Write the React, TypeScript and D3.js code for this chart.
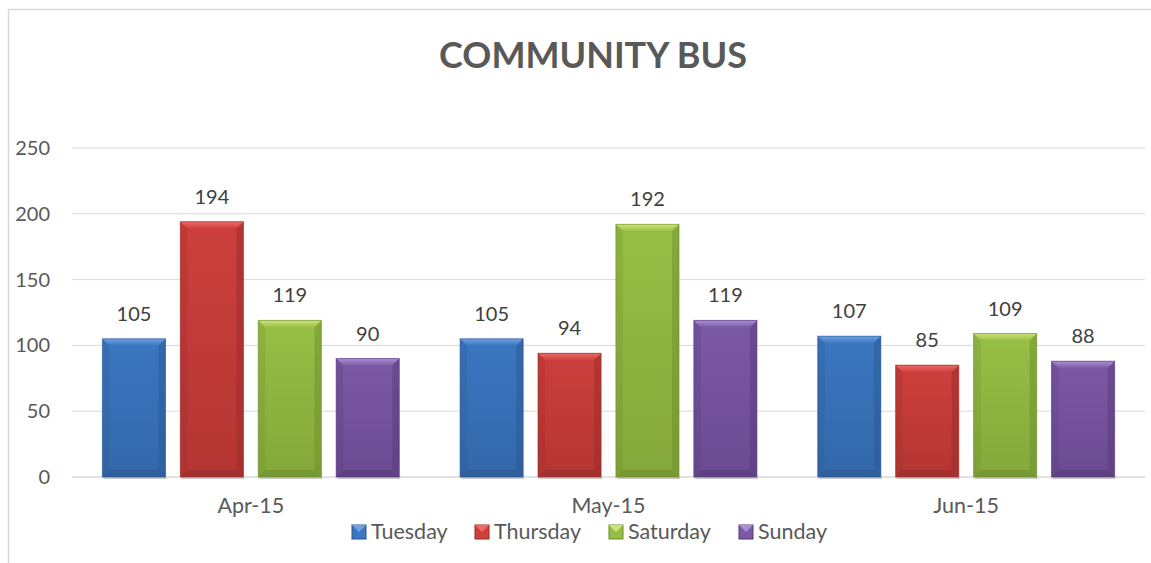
import React from "react";
import * as d3 from "d3";

const months = ["Apr-15", "May-15", "Jun-15"];
const days = ["Tuesday", "Thursday", "Saturday", "Sunday"];
const tuesday = [105, 105, 107];
const thursday = [194, 94, 85];
const saturday = [119, 192, 109];
const sunday = [90, 119, 88];
const yTicks = [0, 50, 100, 150, 200, 250];

const series = [tuesday, thursday, saturday, sunday];

// base / light / dark shade per day
const shades = [
  { base: "#3b76c0", light: "#6ea2e2", dark: "#2a5690" },
  { base: "#cc3f3c", light: "#ee6a66", dark: "#962b29" },
  { base: "#97bf45", light: "#cde377", dark: "#6c8c2c" },
  { base: "#7b59a4", light: "#ab8fd6", dark: "#56397a" },
];

const W = 1151;
const H = 563;
const margin = { top: 148, right: 6, bottom: 86, left: 72 };
const FONT = "Lato, 'Open Sans', sans-serif";

const App = () => {
  const chartW = W - margin.left - margin.right;
  const chartH = H - margin.top - margin.bottom;

  const x0 = d3.scaleBand().domain(months).range([0, chartW]).padding(0);
  const x1 = d3
    .scaleBand()
    .domain(days)
    .range([0, x0.bandwidth()])
    .paddingInner(0.19)
    .paddingOuter(0.39);
  const y = d3.scaleLinear().domain([0, 250]).range([chartH, 0]);

  const bev = 7;

  return (
    <svg
      width={W}
      height={H}
      style={{ position: "absolute", left: 0, top: 0, background: "#fff" }}
      fontFamily={FONT}
    >
      <defs>
        {shades.map((s, i) => (
          <linearGradient key={i} id={`g${i}`} x1="0" y1="0" x2="0" y2="1">
            <stop offset="0" stopColor={s.base} />
            <stop offset="1" stopColor={d3.interpolateRgb(s.base, s.dark)(0.45)} />
          </linearGradient>
        ))}
        {shades.map((s, i) => (
          <linearGradient key={i} id={`t${i}`} x1="0" y1="0" x2="0" y2="1">
            <stop offset="0" stopColor={s.light} />
            <stop offset="1" stopColor={s.base} />
          </linearGradient>
        ))}
      </defs>

      {/* frame */}
      <rect x={8.5} y={9.5} width={W} height={H} fill="none" stroke="#d9d9d9" strokeWidth={1.5} />

      <text x={593} y={68} textAnchor="middle" fontSize={36} fontWeight="bold" fill="#595959">
        COMMUNITY BUS
      </text>

      <g transform={`translate(${margin.left},${margin.top})`}>
        {yTicks.map((t) => (
          <g key={t}>
            <line x1={0} x2={chartW} y1={y(t)} y2={y(t)} stroke="#d9d9d9" strokeWidth={t === 0 ? 1.5 : 1} />
            <text x={-22} y={y(t)} dy="0.35em" textAnchor="end" fontSize={20} fill="#595959">
              {t}
            </text>
          </g>
        ))}

        {months.map((m, mi) => (
          <g key={m} transform={`translate(${x0(m)},0)`}>
            {days.map((d, di) => {
              const v = series[di][mi];
              const bx = x1(d)!;
              const bw = x1.bandwidth();
              const by = y(v);
              const bh = chartH - by;
              const s = shades[di];
              return (
                <g key={d}>
                  <rect x={bx + 1} y={chartH} width={bw} height={2} fill="#c8c8c8" />
                  <rect x={bx} y={by} width={bw} height={bh} fill={`url(#g${di})`} />
                  {/* bevel edges */}
                  <polygon
                    points={`${bx},${by} ${bx + bw},${by} ${bx + bw - bev},${by + bev} ${bx + bev},${by + bev}`}
                    fill={`url(#t${di})`}
                  />
                  <polygon
                    points={`${bx},${by} ${bx + bev},${by + bev} ${bx + bev},${chartH - bev} ${bx},${chartH}`}
                    fill={s.dark}
                    opacity={0.25}
                  />
                  <polygon
                    points={`${bx + bw},${by} ${bx + bw - bev},${by + bev} ${bx + bw - bev},${chartH - bev} ${bx + bw},${chartH}`}
                    fill={s.dark}
                    opacity={0.45}
                  />
                  <polygon
                    points={`${bx},${chartH} ${bx + bev},${chartH - bev} ${bx + bw - bev},${chartH - bev} ${bx + bw},${chartH}`}
                    fill={s.dark}
                    opacity={0.55}
                  />
                  <rect x={bx} y={by} width={bw} height={bh} fill="none" stroke={s.dark} strokeOpacity={0.6} strokeWidth={1} />
                  <text
                    x={bx + bw / 2}
                    y={by - 18}
                    textAnchor="middle"
                    fontSize={20}
                    fill="#404040"
                  >
                    {v}
                  </text>
                </g>
              );
            })}
            <text x={x0.bandwidth() / 2} y={chartH + 36} textAnchor="middle" fontSize={21.5} fill="#595959">
              {m}
            </text>
          </g>
        ))}
      </g>

      {/* legend */}
      {(() => {
        const lx = [352, 475, 609, 739];
        return days.map((d, i) => {
          const s = shades[i];
          return (
            <g key={d} transform={`translate(${lx[i]},525)`}>
              <rect x={0} y={0} width={14} height={14} fill={s.base} stroke={s.dark} strokeWidth={1} />
              <polygon points="0,0 14,0 7,7" fill={s.light} />
              <text x={19} y={13.5} fontSize={21.5} fill="#595959">
                {d}
              </text>
            </g>
          );
        });
      })()}
    </svg>
  );
};

export default App;
